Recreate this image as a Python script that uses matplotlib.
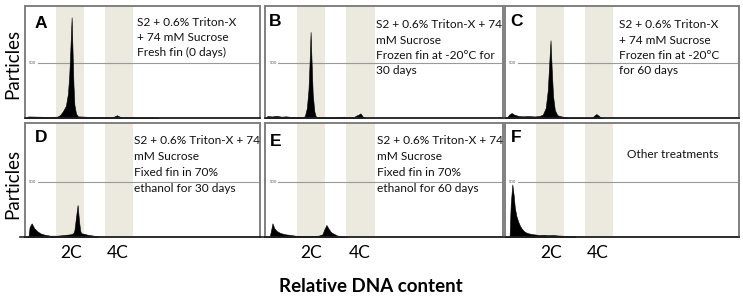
import matplotlib
matplotlib.use("Agg")
import matplotlib.pyplot as plt

# ---------------- data ----------------
panel_letters = ["A", "B", "C", "D", "E", "F"]
panel_texts = [
    ["S2 + 0.6% Triton-X", "+ 74 mM Sucrose", "Fresh fin (0 days)"],
    ["S2 + 0.6% Triton-X + 74", "mM Sucrose", "Frozen fin at -20°C for", "30 days"],
    ["S2 + 0.6% Triton-X", "+ 74 mM Sucrose", "Frozen fin at -20°C", "for 60 days"],
    ["S2 + 0.6% Triton-X + 74", "mM Sucrose", "Fixed fin in 70%", "ethanol for 30 days"],
    ["S2 + 0.6% Triton-X + 74", "mM Sucrose", "Fixed fin in 70%", "ethanol for 60 days"],
    ["Other treatments"],
]
band_2c = [137, 258]
band_4c = [350, 472]
ref_level = 500
ref_label = "500"
x_ticklabels = ["2C", "4C"]
x_tickpos = [200, 405]
ylabel = "Particles"
xlabel = "Relative DNA content"

chan_A = [0, 8, 13, 60, 100, 140, 152, 165, 178, 187, 193, 198, 203, 207, 211, 215, 222, 230, 300, 380, 392, 400, 408, 418, 500, 575, 580]
cnt_A = [0, 0, 14, 12, 10, 12, 25, 60, 110, 220, 400, 650, 910, 600, 300, 120, 40, 15, 8, 8, 16, 25, 16, 8, 5, 3, 0]

chan_B = [0, 5, 10, 30, 50, 70, 90, 120, 160, 171, 180, 187, 192, 196, 200, 205, 212, 218, 225, 260, 300, 340, 350, 383, 395, 402, 410, 416, 422, 430]
cnt_B = [0, 0, 18, 14, 20, 12, 15, 8, 8, 15, 90, 260, 520, 778, 520, 220, 60, 15, 8, 6, 6, 12, 6, 10, 25, 30, 42, 25, 8, 0]

chan_C = [0, 8, 18, 29, 40, 60, 80, 100, 130, 150, 165, 178, 187, 193, 199, 204, 210, 218, 229, 245, 260, 280, 378, 390, 399, 410, 421, 430]
cnt_C = [0, 0, 30, 45, 30, 18, 15, 18, 14, 18, 30, 90, 250, 480, 703, 450, 200, 70, 25, 15, 10, 0, 0, 20, 36, 20, 0, 0]

chan_D = [0, 15, 20, 29, 40, 55, 70, 87, 110, 140, 170, 200, 210, 215, 222, 229, 235, 240, 244, 255, 270, 290, 312, 320]
cnt_D = [0, 0, 90, 125, 80, 50, 30, 20, 12, 12, 18, 25, 35, 60, 180, 293, 150, 60, 35, 30, 22, 15, 8, 0]

chan_E = [0, 20, 26, 32, 40, 50, 65, 85, 105, 130, 160, 200, 230, 247, 255, 264, 272, 283, 295, 312, 330, 348, 352]
cnt_E = [0, 0, 60, 125, 80, 55, 37, 25, 20, 12, 10, 10, 12, 25, 70, 110, 80, 45, 30, 12, 8, 4, 0]

chan_F = [0, 20, 25, 32, 38, 43, 50, 58, 66, 73, 80, 87, 100, 116, 135, 150, 170, 190, 210, 230, 250, 270, 290, 305, 308]
cnt_F = [0, 0, 300, 480, 380, 265, 190, 138, 100, 77, 60, 46, 35, 27, 22, 18, 20, 16, 18, 14, 12, 10, 8, 6, 0]

chans = [chan_A, chan_B, chan_C, chan_D, chan_E, chan_F]
cnts = [cnt_A, cnt_B, cnt_C, cnt_D, cnt_E, cnt_F]

# ---------------- layout ----------------
W, H = 743, 297
fig = plt.figure(figsize=(W / 100, H / 100), dpi=100)
FONT = ["Lato", "DejaVu Sans"]
BAND = "#ece9de"
EDGE = "#808080"

def fx(x):
    return x / W

def fy(y):
    return 1 - y / H

boxes = [(25, 6, 260, 118), (265, 6, 503, 118), (505, 6, 739, 118),
         (25, 123, 260, 237), (265, 123, 503, 237), (505, 123, 739, 237)]
ytops = [1012, 1012, 1012, 1040, 1040, 1040]
letter_pos = [(35, 23), (269, 22), (510, 22), (35, 137), (270, 142), (511, 137)]
text_pos = [(137, [23, 37.5, 52]), (376, [25, 40, 55.5, 71]), (619, [25, 40, 55.5, 71]),
            (134, [141, 157, 173, 189]), (377, [141, 157, 173, 189]), (627, [155])]

axes = []
for i, (l, t, r, b) in enumerate(boxes):
    ax = fig.add_axes([fx(l), fy(b), (r - l) / W, (b - t) / H])
    ax.set_xlim(0, 1023)
    ax.set_ylim(0, ytops[i])
    ax.axvspan(band_2c[0], band_2c[1], color=BAND, lw=0, zorder=0)
    ax.axvspan(band_4c[0], band_4c[1], color=BAND, lw=0, zorder=0)
    ax.axhline(ref_level, xmin=0.055, xmax=1, color="#9a9a9a", lw=0.8, zorder=1)
    ax.text(0.018, ref_level, ref_label, fontsize=2.8, color="#555555",
            va="center", ha="left", transform=ax.get_yaxis_transform())
    ax.fill_between(chans[i], cnts[i], 0, color="black", lw=0.4, zorder=3)
    ax.plot([0, 1023], [0, 0], color="#222222", lw=1.2, zorder=4, clip_on=False)
    ax.set_xticks([])
    ax.set_yticks([])
    for s in ax.spines.values():
        s.set_color(EDGE)
        s.set_linewidth(1.4)
    axes.append(ax)

    lx, ly = letter_pos[i]
    fig.text(fx(lx), fy(ly), panel_letters[i], fontsize=12.5, fontweight="bold",
             family=["Liberation Sans", "DejaVu Sans"], ha="left", va="center")
    tx, tys = text_pos[i]
    for line, ty in zip(panel_texts[i], tys):
        fig.text(fx(tx), fy(ty), line, fontsize=8.6, family=FONT, ha="left", va="center",
                 color="#111111")

# extend baseline slightly left for D and E
for ax in axes[3:5]:
    ax.plot([-22, 0], [0, 0], color="#222222", lw=1.2, clip_on=False, zorder=4)

# y labels
fig.text(fx(12.5), fy(63.5), ylabel, rotation=90, fontsize=13.5, family=FONT,
         ha="center", va="center")
fig.text(fx(12.5), fy(184), ylabel, rotation=90, fontsize=13.5, family=FONT,
         ha="center", va="center")

# 2C / 4C labels under bottom row
for ax in axes[3:]:
    for pos, lab in zip(x_tickpos, x_ticklabels):
        ax.text(pos, -0.14, lab, transform=ax.get_xaxis_transform(), fontsize=12.5,
                family=FONT, ha="center", va="center")

fig.text(fx(371), fy(287), xlabel, fontsize=13.5, fontweight="bold", family=FONT,
         ha="center", va="center")

fig.savefig("out.png", dpi=100)
